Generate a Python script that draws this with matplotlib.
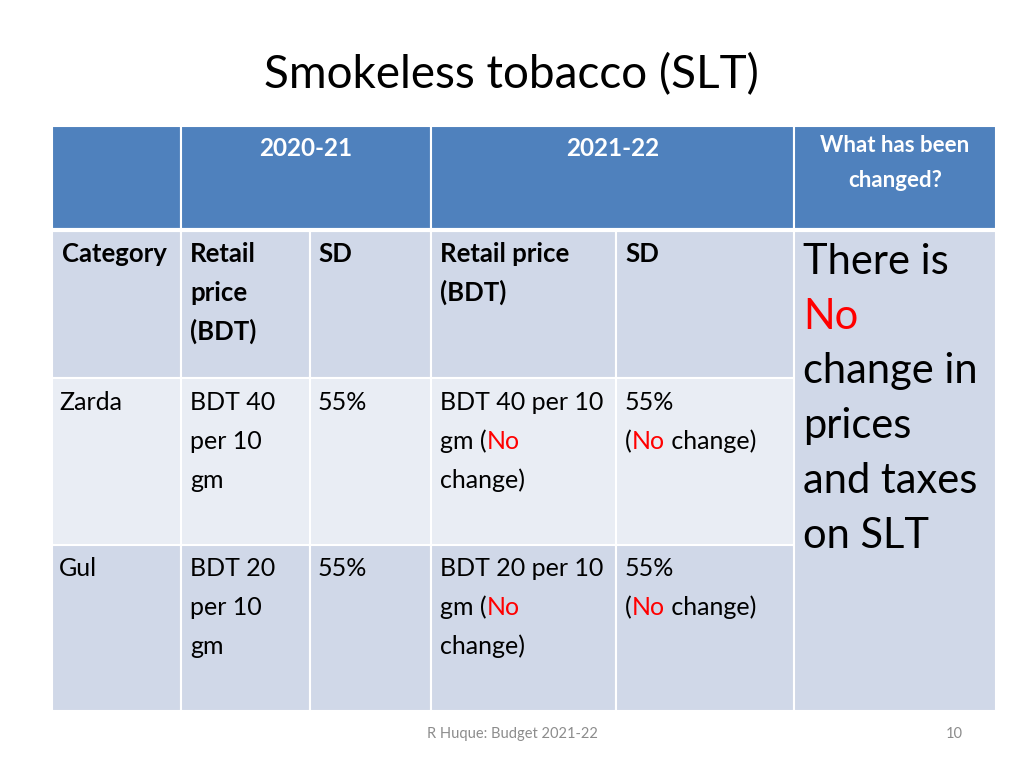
import matplotlib.pyplot as plt
from matplotlib.patches import Rectangle

plt.rcParams['font.family'] = ['Lato', 'DejaVu Sans']

# table content
title = "Smokeless tobacco (SLT)"
periods = ["2020-21", "2021-22"]
change_head = ["What has been", "changed?"]
col_heads = [["Category"], ["Retail", "price", "(BDT)"], ["SD"], ["Retail price", "(BDT)"], ["SD"]]
categories = ["Zarda", "Gul"]
old_price = [["BDT 40", "per 10", "gm"], ["BDT 20", "per 10", "gm"]]
old_sd = ["55%", "55%"]
new_price = ["BDT 40 per 10", "BDT 20 per 10"]
new_sd = ["55%", "55%"]
verdict = [[("There is", "k")], [("No", "red")], [("change in", "k")],
           [("prices", "k")], [("and taxes", "k")], [("on SLT", "k")]]
footer = "R Huque: Budget 2021-22"
page = "10"

# layout (pixels)
xs = [52, 181, 310, 431, 616, 794, 996]
ys = [126, 230, 378, 545, 711]
HEAD = "#4F81BD"
DARK = "#D0D8E8"
LIGHT = "#E9EDF4"

fig = plt.figure(figsize=(10.24, 7.68), dpi=100)
ax = fig.add_axes([0, 0, 1, 1])
ax.set_xlim(0, 1024)
ax.set_ylim(768, 0)
ax.axis('off')

def cell(x0, x1, y0, y1, color, lw=1.5):
    ax.add_patch(Rectangle((x0, y0), x1 - x0, y1 - y0, facecolor=color,
                           edgecolor='white', lw=lw))

# header row
cell(xs[0], xs[1], ys[0], ys[1], HEAD)
cell(xs[1], xs[3], ys[0], ys[1], HEAD)
cell(xs[3], xs[5], ys[0], ys[1], HEAD)
cell(xs[5], xs[6], ys[0], ys[1], HEAD)
# body rows
row_colors = [DARK, LIGHT, DARK]
for r in range(3):
    for c in range(5):
        cell(xs[c], xs[c + 1], ys[r + 1], ys[r + 2], row_colors[r])
cell(xs[5], xs[6], ys[1], ys[4], DARK)
ax.plot([xs[0], xs[6]], [ys[1], ys[1]], color='white', lw=3)

fig.canvas.draw()
renderer = fig.canvas.get_renderer()

def seq_text(x, y, parts, size, weight='normal'):
    # draw coloured pieces one after another on the same baseline
    for s, col in parts:
        t = ax.text(x, y, s, fontsize=size, color=col, weight=weight,
                    ha='left', va='baseline')
        bb = t.get_window_extent(renderer)
        x += bb.width

BODY = 18
LINE = 39

ax.text(511, 88, title, fontsize=33, ha='center', va='baseline')

# header text
ax.text((xs[1] + xs[3]) / 2, 156, periods[0], fontsize=17.5, weight='bold',
        color='white', ha='center', va='baseline')
ax.text((xs[3] + xs[5]) / 2, 156, periods[1], fontsize=17.5, weight='bold',
        color='white', ha='center', va='baseline')
for i, s in enumerate(change_head):
    ax.text((xs[5] + xs[6]) / 2, 152 + i * 35, s, fontsize=16, weight='bold',
            color='white', ha='center', va='baseline')

# column heads
head_x = [62, 190, 318, 440, 625]
for c, lines in enumerate(col_heads):
    for i, s in enumerate(lines):
        ax.text(head_x[c], 262 + i * LINE, s, fontsize=18.5, weight='bold',
                ha='left', va='baseline')

# data rows
row_base = [410, 576]
for r in range(2):
    y = row_base[r]
    ax.text(59, y, categories[r], fontsize=BODY, va='baseline')
    for i, s in enumerate(old_price[r]):
        ax.text(190, y + i * LINE, s, fontsize=BODY, va='baseline')
    ax.text(318, y, old_sd[r], fontsize=BODY, va='baseline')
    ax.text(440, y, new_price[r], fontsize=BODY, va='baseline')
    seq_text(440, y + LINE, [("gm (", 'k'), ("No", 'red')], BODY)
    ax.text(440, y + 2 * LINE, "change)", fontsize=BODY, va='baseline')
    ax.text(625, y, new_sd[r], fontsize=BODY, va='baseline')
    seq_text(625, y + LINE, [("(", 'k'), ("No", 'red'), (" change)", 'k')], BODY)

# verdict column
for i, parts in enumerate(verdict):
    seq_text(803, 274 + i * 54.7, parts, 30)

ax.text(512, 738, footer, fontsize=10.5, color='#8C8C8C', ha='center', va='baseline')
ax.text(954, 738, page, fontsize=10.5, color='#8C8C8C', ha='center', va='baseline')

fig.savefig("out.png", dpi=100)
